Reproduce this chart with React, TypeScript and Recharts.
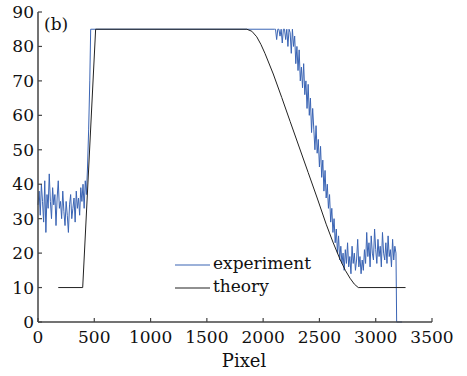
import { Legend, Line, LineChart, XAxis, YAxis } from "recharts";

// noisy experiment trace in segments (x = start + i * step)
const expBaseStart = 0;
const expBaseStep = 10;
const expBase = [
  34, 38, 31, 40, 35, 29, 41, 26, 37, 33, 43, 35, 30, 39, 34, 37, 28, 36, 41, 33,
  35, 30, 38, 32, 28, 35, 31, 26, 34, 37, 30, 33, 36, 29, 38, 33, 36, 31, 39, 35,
  40, 33, 41, 37,
];
const expRiseX = [440, 450, 460, 468, 2100];
const expRise = [45, 56, 70, 85, 85];

const expFallStart = 2110;
const expFallStep = 10;
const expFall = [
  85, 82, 85, 85, 83, 85, 81, 85, 85, 82, 85, 80, 85, 84, 78, 85, 80, 83, 75, 80,
  73, 79, 70, 74, 68, 75, 66, 70, 62, 69, 60, 65, 55, 62, 56, 50, 57, 49, 53, 45,
  51, 42, 47, 38, 44, 36, 40, 33, 37, 29, 33, 26, 30, 23, 27, 20, 25, 18, 22, 17,
];

const expTailStart = 2710;
const expTailStep = 10;
const expTail = [
  20, 15, 21, 17, 23, 16, 19, 14, 22, 17, 20, 15, 18, 24, 16, 19, 14, 18, 15, 21,
  17, 26, 19, 23, 16, 25, 20, 18, 27, 21, 17, 24, 19, 22, 16, 26, 20, 18, 23, 17,
  25, 19, 21, 16, 24, 18, 22, 20,
];
const expEndX = [3186, 3234];
const expEnd = [0, 0];

const theoryX = [
  180, 397, 512, 1855, 1900, 1943, 1980, 2016, 2090, 2165, 2240, 2320, 2400, 2480,
  2560, 2620, 2683, 2730, 2772, 2810, 2845, 3265,
];
const theoryY = [
  10, 10, 85, 85, 84.4, 82.8, 80.6, 78, 72, 65.2, 58.2, 50.8, 43.4, 36, 28.4, 23.2,
  18.2, 15, 12.7, 11, 10, 10,
];

const xTicks = [0, 500, 1000, 1500, 2000, 2500, 3000, 3500];
const yTicks = [0, 10, 20, 30, 40, 50, 60, 70, 80, 90];

const seg = (start: number, step: number, ys: number[]) =>
  ys.map((y, i) => ({ x: start + i * step, y }));
const pairs = (xs: number[], ys: number[]) => xs.map((x, i) => ({ x, y: ys[i] }));

const experiment = [
  ...seg(expBaseStart, expBaseStep, expBase),
  ...pairs(expRiseX, expRise),
  ...seg(expFallStart, expFallStep, expFall),
  ...seg(expTailStart, expTailStep, expTail),
  ...pairs(expEndX, expEnd),
];
const theory = pairs(theoryX, theoryY);

const FONT = "'DejaVu Serif', 'Liberation Serif', serif";
const FS = 17;
const AXIS = "#444";
const BLUE = "#3a64b4";
const PLOT_LEFT = 38;
const PLOT_BOTTOM = 322;

const XTick = (props: any) => {
  const { x, payload } = props;
  return (
    <g>
      <line x1={x} x2={x} y1={PLOT_BOTTOM} y2={PLOT_BOTTOM - 4} stroke={AXIS} strokeWidth={1.2} />
      <text x={x} y={PLOT_BOTTOM + 9} dy="0.71em" textAnchor="middle" fill="#111" fontSize={FS} style={{ fontFamily: FONT }}>
        {payload.value}
      </text>
    </g>
  );
};

const YTick = (props: any) => {
  const { y, payload } = props;
  return (
    <g>
      <line x1={PLOT_LEFT} x2={PLOT_LEFT + 4} y1={y} y2={y} stroke={AXIS} strokeWidth={1.2} />
      <text x={PLOT_LEFT - 4} y={y} dy="0.35em" textAnchor="end" fill="#111" fontSize={FS} style={{ fontFamily: FONT }}>
        {payload.value}
      </text>
    </g>
  );
};

const LegendBox = () => (
  <div style={{ fontFamily: FONT, fontSize: FS, color: "#111" }}>
    {[
      { name: "experiment", color: BLUE },
      { name: "theory", color: "#222" },
    ].map((it) => (
      <div key={it.name} style={{ height: 23, lineHeight: "23px", display: "flex", alignItems: "flex-start" }}>
        <svg width={38} height={23} style={{ display: "block" }}>
          <line x1={0} x2={35} y1={13} y2={13} stroke={it.color} strokeWidth={1.2} />
        </svg>
        <span>{it.name}</span>
      </div>
    ))}
  </div>
);

export default function App() {
  return (
    <div style={{ position: "absolute", left: 0, top: 0, width: 467, height: 376, background: "#fff", fontFamily: FONT }}>
      <LineChart width={467} height={376} margin={{ top: 12, right: 35, left: 0, bottom: 0 }}>
        <XAxis
          dataKey="x"
          type="number"
          domain={[0, 3500]}
          ticks={xTicks}
          height={54}
          tickLine={false}
          tick={<XTick />}
          axisLine={{ stroke: AXIS, strokeWidth: 1.5 }}
          label={{ value: "Pixel", position: "insideBottom", offset: 9, dx: 9, fontSize: 18, style: { fontFamily: FONT }, fill: "#111" }}
        />
        <XAxis
          xAxisId="top"
          orientation="top"
          dataKey="x"
          type="number"
          domain={[0, 3500]}
          height={0}
          tick={false}
          tickLine={false}
          axisLine={{ stroke: AXIS, strokeWidth: 1.5 }}
        />
        <YAxis
          type="number"
          domain={[0, 90]}
          ticks={yTicks}
          width={38}
          tickLine={false}
          tick={<YTick />}
          axisLine={{ stroke: AXIS, strokeWidth: 1.5 }}
        />
        <YAxis
          yAxisId="right"
          orientation="right"
          domain={[0, 90]}
          width={0}
          tick={false}
          tickLine={false}
          axisLine={{ stroke: AXIS, strokeWidth: 1.5 }}
        />
        <Legend
          layout="horizontal"
          verticalAlign="middle"
          align="center"
          content={<LegendBox />}
          wrapperStyle={{ left: 175, top: 252, width: 160 }}
        />
        <Line data={experiment} dataKey="y" type="linear" stroke={BLUE} strokeWidth={1} dot={false} isAnimationActive={false} />
        <Line data={theory} dataKey="y" type="linear" stroke="#222" strokeWidth={1} dot={false} isAnimationActive={false} />
      </LineChart>
      <div style={{ position: "absolute", left: 44, top: 15, fontFamily: FONT, fontSize: FS, lineHeight: "19px", color: "#111" }}>
        (b)
      </div>
    </div>
  );
}
